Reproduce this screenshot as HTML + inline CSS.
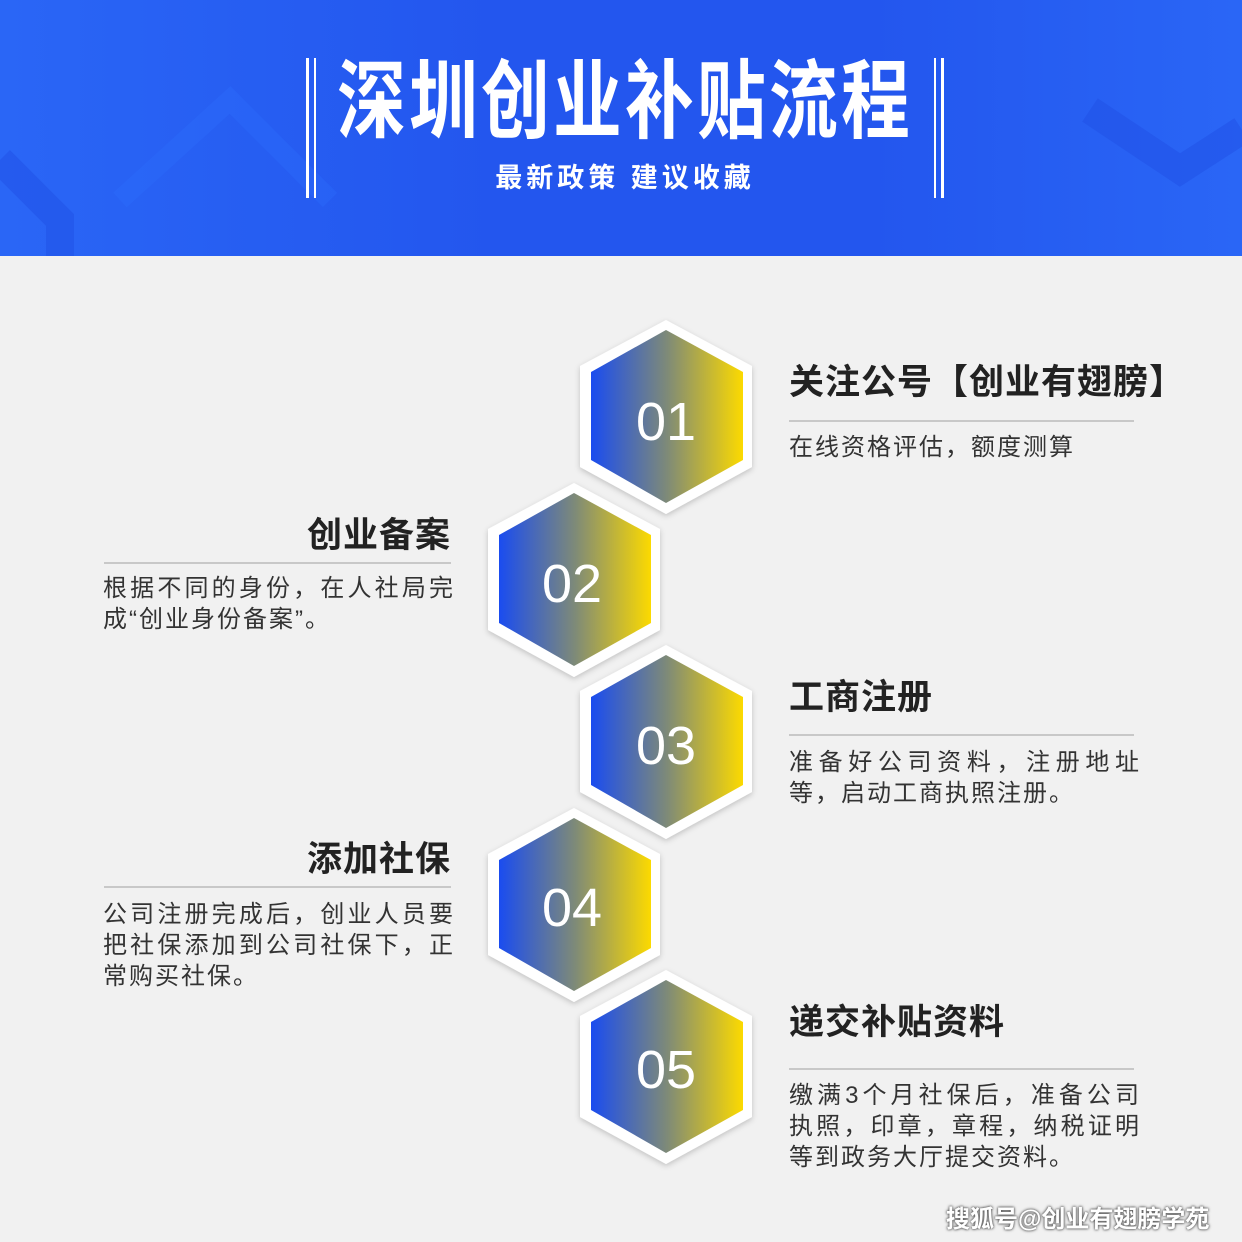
<!DOCTYPE html>
<html><head><meta charset="utf-8"><style>
*{margin:0;padding:0}
body{width:1242px;height:1242px;position:relative;overflow:hidden;background:#f1f1f1;font-family:"Liberation Sans","Noto Sans CJK SC",sans-serif}
.hdr{position:absolute;left:0;top:0;width:1242px;height:256px;background:linear-gradient(90deg,#2a66f6,#2356ee 40%,#2356ee 70%,#2a66f6)}
.t{position:absolute;color:#222;font-weight:bold;font-size:35px;line-height:40px;white-space:nowrap;letter-spacing:1px}
.d{position:absolute;color:#333;font-size:24px;line-height:31px;letter-spacing:2px}
.d span{display:block;white-space:nowrap}
.d span.j{text-align:justify;text-align-last:justify;letter-spacing:0}
.ln{position:absolute;height:2px;background:#c8c8c8}
</style></head><body>
<div class="hdr">
<svg width="1242" height="256" style="position:absolute;left:0;top:0">
<polyline points="0,160 60,220 60,256" fill="none" stroke="#1f50e6" stroke-width="28" opacity=".5"/>
<polyline points="120,200 230,100 330,200" fill="none" stroke="#3070ff" stroke-width="20" opacity=".3"/>
<polyline points="1090,110 1180,170 1242,130" fill="none" stroke="#1f50e6" stroke-width="28" opacity=".5"/>
<rect x="306" y="58" width="3" height="140" fill="#fff"/><rect x="314" y="58" width="2" height="140" fill="#fff"/>
<rect x="934" y="58" width="2" height="140" fill="#fff"/><rect x="941" y="58" width="3" height="140" fill="#fff"/>
</svg>
<div style="position:absolute;left:625px;top:52px;white-space:nowrap;color:#fff;font-size:86px;font-weight:bold;letter-spacing:4px;line-height:100px;transform:translateX(-50%) scaleX(0.8)">深圳创业补贴流程</div>
<div style="position:absolute;left:318px;top:160px;width:614px;text-align:center;color:#fff;font-size:27px;font-weight:bold;letter-spacing:4px;line-height:36px;white-space:nowrap">最新政策 建议收藏</div>
</div>
<svg width="1242" height="1242" style="position:absolute;left:0;top:0">
<defs><linearGradient id="g" x1="0" x2="1" y1="0" y2="0"><stop offset="0" stop-color="#1a4cf0"/><stop offset=".5" stop-color="#7e8a78"/><stop offset="1" stop-color="#fcda00"/></linearGradient>
<filter id="s"><feDropShadow dx="0" dy="2" stdDeviation="3" flood-opacity=".2"/></filter>
<g id="h"><polygon points="0,-96 86,-50 86,51 0,98 -86,51 -86,-50" fill="#fff" filter="url(#s)"/><polygon points="0,-86 77,-44 77,44 0,87 -75,44 -75,-44" fill="url(#g)"/></g></defs>
<use href="#h" x="666" y="416"/><use href="#h" x="574" y="579"/><use href="#h" x="666" y="741"/><use href="#h" x="574" y="904"/><use href="#h" x="666" y="1066"/>
<g fill="#fff" font-size="54" font-family="Liberation Sans,sans-serif" text-anchor="middle">
<text x="666" y="440">01</text><text x="572" y="602">02</text><text x="666" y="764">03</text><text x="572" y="926">04</text><text x="666" y="1088">05</text></g>
</svg>
<div class="t" style="left:789px;top:363px">关注公号【创业有翅膀】</div><div class="ln" style="left:789px;top:420px;width:345px"></div>
<div class="d" style="left:789px;top:432px">在线资格评估，额度测算</div>
<div class="t" style="left:104px;top:516px;width:347px;text-align:right">创业备案</div><div class="ln" style="left:104px;top:562px;width:347px"></div>
<div class="d" style="left:103px;top:573px;width:350px"><span class="j">根据不同的身份，在人社局完</span><span>成“创业身份备案”。</span></div>
<div class="t" style="left:789px;top:678px">工商注册</div><div class="ln" style="left:789px;top:734px;width:345px"></div>
<div class="d" style="left:789px;top:747px;width:350px"><span class="j">准备好公司资料，注册地址</span><span>等，启动工商执照注册。</span></div>
<div class="t" style="left:104px;top:840px;width:347px;text-align:right">添加社保</div><div class="ln" style="left:104px;top:886px;width:347px"></div>
<div class="d" style="left:103px;top:899px;width:350px"><span class="j">公司注册完成后，创业人员要</span><span class="j">把社保添加到公司社保下，正</span><span>常购买社保。</span></div>
<div class="t" style="left:789px;top:1003px">递交补贴资料</div><div class="ln" style="left:789px;top:1068px;width:345px"></div>
<div class="d" style="left:789px;top:1080px;width:350px"><span class="j">缴满3个月社保后，准备公司</span><span class="j">执照，印章，章程，纳税证明</span><span>等到政务大厅提交资料。</span></div>
<div style="position:absolute;left:946px;top:1199px;color:#fff;font-size:24px;font-weight:bold;text-shadow:0 0 3px #555,0 0 2px #555;white-space:nowrap">搜狐号@创业有翅膀学苑</div>
</body></html>
